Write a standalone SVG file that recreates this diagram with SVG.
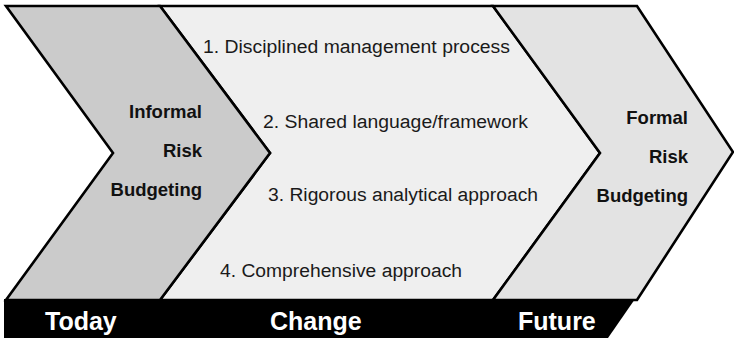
<svg xmlns="http://www.w3.org/2000/svg" width="734" height="341" viewBox="0 0 734 341">
  <style>
    .stage { stroke: #000; stroke-width: 2.6; stroke-linejoin: miter; }
    .item { font-family: "Liberation Sans", Arial, sans-serif; font-size: 19.2px; fill: #1a1a1a; }
    .state { font-family: "Liberation Sans", Arial, sans-serif; font-size: 18.5px; font-weight: bold; fill: #111; text-anchor: end; }
    .phase { font-family: "Liberation Sans", Arial, sans-serif; font-size: 25px; font-weight: bold; fill: #fff; }
  </style>
  <rect width="734" height="341" fill="#fff"/>

  <!-- Change stage (middle chevron) -->
  <g id="change">
    <polygon class="stage" fill="#efefef" points="160,6 493,6 600,153 493,300 160,300 270,153"/>
    <text class="item" x="203" y="53" textLength="307" lengthAdjust="spacingAndGlyphs">1. Disciplined management process</text>
    <text class="item" x="263" y="128" textLength="265" lengthAdjust="spacingAndGlyphs">2. Shared language/framework</text>
    <text class="item" x="268" y="201" textLength="270" lengthAdjust="spacingAndGlyphs">3. Rigorous analytical approach</text>
    <text class="item" x="220" y="277" textLength="242" lengthAdjust="spacingAndGlyphs">4. Comprehensive approach</text>
  </g>

  <!-- Future stage (right chevron) -->
  <g id="future">
    <polygon class="stage" fill="#e3e3e3" points="493,6 637,6 733,152 637,300 493,300 600,153"/>
    <text class="state" x="688" y="124">Formal</text>
    <text class="state" x="688" y="163">Risk</text>
    <text class="state" x="688" y="202">Budgeting</text>
  </g>

  <!-- Today stage (left chevron) -->
  <g id="today">
    <polygon class="stage" fill="#cbcbcb" points="6,6 160,6 270,153 160,300 6,300 113,153"/>
    <text class="state" x="202" y="118">Informal</text>
    <text class="state" x="202" y="157">Risk</text>
    <text class="state" x="202" y="196">Budgeting</text>
  </g>

  <!-- Timeline bar -->
  <g id="timeline">
    <polygon fill="#000" points="4,299 635,299 608,338 4,338"/>
    <text class="phase" x="45" y="330">Today</text>
    <text class="phase" x="270" y="330">Change</text>
    <text class="phase" x="518" y="330">Future</text>
  </g>
</svg>
